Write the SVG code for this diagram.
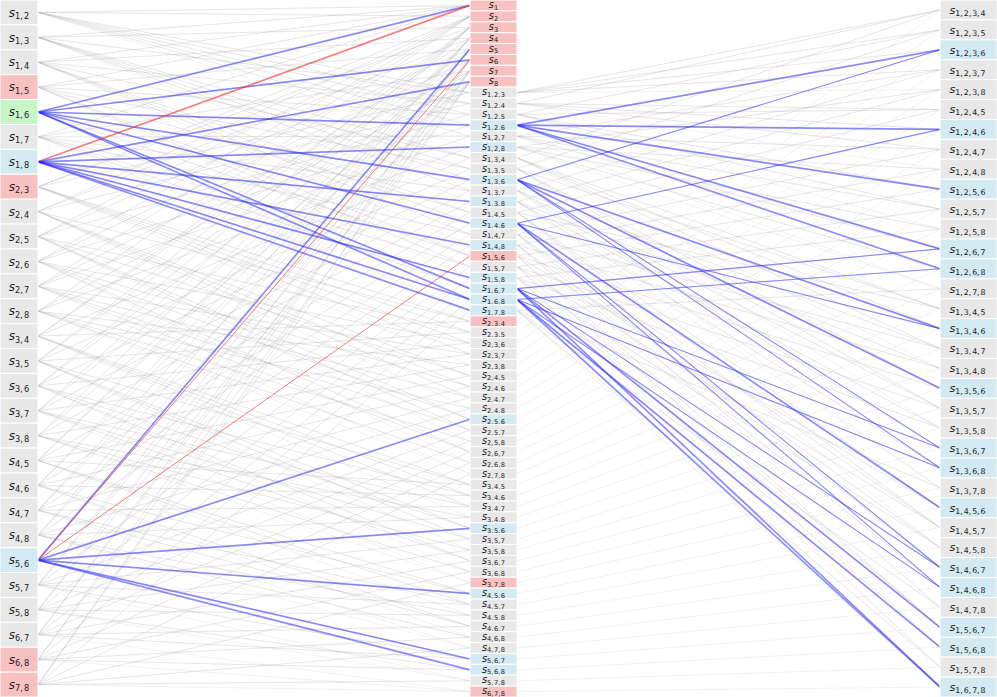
<svg xmlns="http://www.w3.org/2000/svg" width="997" height="697" viewBox="0 0 997 697">
<style>
rect{fill:#e8e8e8;stroke:#fff;stroke-width:1}
rect.p{fill:#f7c1c1}
rect.gn{fill:#c8f5c8}
rect.b{fill:#d4eaf2}
text{font-family:"DejaVu Sans","Liberation Sans",sans-serif;fill:#1a1a1a;text-anchor:middle}
.v{font-style:italic}
.u{word-spacing:-1.5px}
.L{font-size:12px}
.L .u{font-size:8.2px}
.M{font-size:9.8px}
.M .u{font-size:6.6px}
.R{font-size:11.2px}
.R .u{font-size:7.8px}
.mesh{fill:none;stroke:#aaa;stroke-opacity:0.22;stroke-width:0.7}
.hb{stroke:#2828ff;stroke-opacity:0.5;stroke-width:1.7}
.hbt{stroke:#2828ff;stroke-opacity:0.5;stroke-width:1.1}
.hr{stroke:#ff2020;stroke-opacity:0.55;stroke-width:1.7}
.hrt{stroke:#ff2020;stroke-opacity:0.5;stroke-width:1}
</style>
<g id="connectors">
<g id="mesh-left" class="mesh">
<path d="M38 12.4L470 5.4 38 12.4 470 16.3 38 12.4 470 92.6 38 12.4 470 103.5 38 12.4 470 114.4 38 12.4 470 125.2 38 12.4 470 136.1 38 12.4 470 147"/>
<path d="M38 37.3L470 5.4 38 37.3 470 27.2 38 37.3 470 92.6 38 37.3 470 157.9 38 37.3 470 168.8 38 37.3 470 179.7 38 37.3 470 190.6 38 37.3 470 201.5"/>
<path d="M38 62.2L470 5.4 38 62.2 470 38.1 38 62.2 470 103.5 38 62.2 470 157.9 38 62.2 470 212.4 38 62.2 470 223.3 38 62.2 470 234.2 38 62.2 470 245"/>
<path d="M38 87.1L470 5.4 38 87.1 470 49 38 87.1 470 114.4 38 87.1 470 168.8 38 87.1 470 212.4 38 87.1 470 255.9 38 87.1 470 266.8 38 87.1 470 277.7"/>
<path d="M38 112L470 5.4 38 112 470 59.9 38 112 470 125.2 38 112 470 179.7 38 112 470 223.3 38 112 470 255.9 38 112 470 288.6 38 112 470 299.5"/>
<path d="M38 136.9L470 5.4 38 136.9 470 70.8 38 136.9 470 136.1 38 136.9 470 190.6 38 136.9 470 234.2 38 136.9 470 266.8 38 136.9 470 288.6 38 136.9 470 310.4"/>
<path d="M38 161.8L470 5.4 38 161.8 470 81.7 38 161.8 470 147 38 161.8 470 201.5 38 161.8 470 245 38 161.8 470 277.7 38 161.8 470 299.5 38 161.8 470 310.4"/>
<path d="M38 186.7L470 16.3 38 186.7 470 27.2 38 186.7 470 92.6 38 186.7 470 321.3 38 186.7 470 332.2 38 186.7 470 343.1 38 186.7 470 354 38 186.7 470 364.9"/>
<path d="M38 211.6L470 16.3 38 211.6 470 38.1 38 211.6 470 103.5 38 211.6 470 321.3 38 211.6 470 375.8 38 211.6 470 386.7 38 211.6 470 397.6 38 211.6 470 408.4"/>
<path d="M38 236.5L470 16.3 38 236.5 470 49 38 236.5 470 114.4 38 236.5 470 332.2 38 236.5 470 375.8 38 236.5 470 419.3 38 236.5 470 430.2 38 236.5 470 441.1"/>
<path d="M38 261.4L470 16.3 38 261.4 470 59.9 38 261.4 470 125.2 38 261.4 470 343.1 38 261.4 470 386.7 38 261.4 470 419.3 38 261.4 470 452 38 261.4 470 462.9"/>
<path d="M38 286.3L470 16.3 38 286.3 470 70.8 38 286.3 470 136.1 38 286.3 470 354 38 286.3 470 397.6 38 286.3 470 430.2 38 286.3 470 452 38 286.3 470 473.8"/>
<path d="M38 311.2L470 16.3 38 311.2 470 81.7 38 311.2 470 147 38 311.2 470 364.9 38 311.2 470 408.4 38 311.2 470 441.1 38 311.2 470 462.9 38 311.2 470 473.8"/>
<path d="M38 336.1L470 27.2 38 336.1 470 38.1 38 336.1 470 157.9 38 336.1 470 321.3 38 336.1 470 484.7 38 336.1 470 495.6 38 336.1 470 506.5 38 336.1 470 517.4"/>
<path d="M38 361L470 27.2 38 361 470 49 38 361 470 168.8 38 361 470 332.2 38 361 470 484.7 38 361 470 528.3 38 361 470 539.2 38 361 470 550"/>
<path d="M38 385.9L470 27.2 38 385.9 470 59.9 38 385.9 470 179.7 38 385.9 470 343.1 38 385.9 470 495.6 38 385.9 470 528.3 38 385.9 470 560.9 38 385.9 470 571.8"/>
<path d="M38 410.8L470 27.2 38 410.8 470 70.8 38 410.8 470 190.6 38 410.8 470 354 38 410.8 470 506.5 38 410.8 470 539.2 38 410.8 470 560.9 38 410.8 470 582.7"/>
<path d="M38 435.7L470 27.2 38 435.7 470 81.7 38 435.7 470 201.5 38 435.7 470 364.9 38 435.7 470 517.4 38 435.7 470 550 38 435.7 470 571.8 38 435.7 470 582.7"/>
<path d="M38 460.5L470 38.1 38 460.5 470 49 38 460.5 470 212.4 38 460.5 470 375.8 38 460.5 470 484.7 38 460.5 470 593.6 38 460.5 470 604.5 38 460.5 470 615.4"/>
<path d="M38 485.4L470 38.1 38 485.4 470 59.9 38 485.4 470 223.3 38 485.4 470 386.7 38 485.4 470 495.6 38 485.4 470 593.6 38 485.4 470 626.3 38 485.4 470 637.2"/>
<path d="M38 510.3L470 38.1 38 510.3 470 70.8 38 510.3 470 234.2 38 510.3 470 397.6 38 510.3 470 506.5 38 510.3 470 604.5 38 510.3 470 626.3 38 510.3 470 648.1"/>
<path d="M38 535.2L470 38.1 38 535.2 470 81.7 38 535.2 470 245 38 535.2 470 408.4 38 535.2 470 517.4 38 535.2 470 615.4 38 535.2 470 637.2 38 535.2 470 648.1"/>
<path d="M38 560.1L470 49 38 560.1 470 59.9 38 560.1 470 255.9 38 560.1 470 419.3 38 560.1 470 528.3 38 560.1 470 593.6 38 560.1 470 659 38 560.1 470 669.9"/>
<path d="M38 585L470 49 38 585 470 70.8 38 585 470 266.8 38 585 470 430.2 38 585 470 539.2 38 585 470 604.5 38 585 470 659 38 585 470 680.8"/>
<path d="M38 609.9L470 49 38 609.9 470 81.7 38 609.9 470 277.7 38 609.9 470 441.1 38 609.9 470 550 38 609.9 470 615.4 38 609.9 470 669.9 38 609.9 470 680.8"/>
<path d="M38 634.8L470 59.9 38 634.8 470 70.8 38 634.8 470 288.6 38 634.8 470 452 38 634.8 470 560.9 38 634.8 470 626.3 38 634.8 470 659 38 634.8 470 691.6"/>
<path d="M38 659.7L470 59.9 38 659.7 470 81.7 38 659.7 470 299.5 38 659.7 470 462.9 38 659.7 470 571.8 38 659.7 470 637.2 38 659.7 470 669.9 38 659.7 470 691.6"/>
<path d="M38 684.6L470 70.8 38 684.6 470 81.7 38 684.6 470 310.4 38 684.6 470 473.8 38 684.6 470 582.7 38 684.6 470 648.1 38 684.6 470 680.8 38 684.6 470 691.6"/>
</g>
<g id="mesh-right" class="mesh">
<path d="M517 92.6L940 10 517 92.6 940 29.9 517 92.6 940 49.8 517 92.6 940 69.7 517 92.6 940 89.6"/>
<path d="M517 103.5L940 10 517 103.5 940 109.5 517 103.5 940 129.4 517 103.5 940 149.4 517 103.5 940 169.3"/>
<path d="M517 114.4L940 29.9 517 114.4 940 109.5 517 114.4 940 189.2 517 114.4 940 209.1 517 114.4 940 229"/>
<path d="M517 125.2L940 49.8 517 125.2 940 129.4 517 125.2 940 189.2 517 125.2 940 248.9 517 125.2 940 268.8"/>
<path d="M517 136.1L940 69.7 517 136.1 940 149.4 517 136.1 940 209.1 517 136.1 940 248.9 517 136.1 940 288.8"/>
<path d="M517 147L940 89.6 517 147 940 169.3 517 147 940 229 517 147 940 268.8 517 147 940 288.8"/>
<path d="M517 157.9L940 10 517 157.9 940 308.7 517 157.9 940 328.6 517 157.9 940 348.5 517 157.9 940 368.4"/>
<path d="M517 168.8L940 29.9 517 168.8 940 308.7 517 168.8 940 388.3 517 168.8 940 408.2 517 168.8 940 428.2"/>
<path d="M517 179.7L940 49.8 517 179.7 940 328.6 517 179.7 940 388.3 517 179.7 940 448.1 517 179.7 940 468"/>
<path d="M517 190.6L940 69.7 517 190.6 940 348.5 517 190.6 940 408.2 517 190.6 940 448.1 517 190.6 940 487.9"/>
<path d="M517 201.5L940 89.6 517 201.5 940 368.4 517 201.5 940 428.2 517 201.5 940 468 517 201.5 940 487.9"/>
<path d="M517 212.4L940 109.5 517 212.4 940 308.7 517 212.4 940 507.8 517 212.4 940 527.7 517 212.4 940 547.6"/>
<path d="M517 223.3L940 129.4 517 223.3 940 328.6 517 223.3 940 507.8 517 223.3 940 567.5 517 223.3 940 587.4"/>
<path d="M517 234.2L940 149.4 517 234.2 940 348.5 517 234.2 940 527.7 517 234.2 940 567.5 517 234.2 940 607.4"/>
<path d="M517 245L940 169.3 517 245 940 368.4 517 245 940 547.6 517 245 940 587.4 517 245 940 607.4"/>
<path d="M517 255.9L940 189.2 517 255.9 940 388.3 517 255.9 940 507.8 517 255.9 940 627.3 517 255.9 940 647.2"/>
<path d="M517 266.8L940 209.1 517 266.8 940 408.2 517 266.8 940 527.7 517 266.8 940 627.3 517 266.8 940 667.1"/>
<path d="M517 277.7L940 229 517 277.7 940 428.2 517 277.7 940 547.6 517 277.7 940 647.2 517 277.7 940 667.1"/>
<path d="M517 288.6L940 248.9 517 288.6 940 448.1 517 288.6 940 567.5 517 288.6 940 627.3 517 288.6 940 687"/>
<path d="M517 299.5L940 268.8 517 299.5 940 468 517 299.5 940 587.4 517 299.5 940 647.2 517 299.5 940 687"/>
<path d="M517 310.4L940 288.8 517 310.4 940 487.9 517 310.4 940 607.4 517 310.4 940 667.1 517 310.4 940 687"/>
<path d="M517 321.3L940 10M517 332.2L940 29.9M517 343.1L940 49.8M517 354L940 69.7M517 364.9L940 89.6M517 375.8L940 109.5M517 386.7L940 129.4M517 397.6L940 149.4M517 408.4L940 169.3M517 419.3L940 189.2M517 430.2L940 209.1M517 441.1L940 229M517 452L940 248.9M517 462.9L940 268.8M517 473.8L940 288.8M517 484.7L940 308.7M517 495.6L940 328.6M517 506.5L940 348.5M517 517.4L940 368.4M517 528.3L940 388.3M517 539.2L940 408.2M517 550L940 428.2M517 560.9L940 448.1M517 571.8L940 468M517 582.7L940 487.9M517 593.6L940 507.8M517 604.5L940 527.7M517 615.4L940 547.6M517 626.3L940 567.5M517 637.2L940 587.4M517 648.1L940 607.4M517 659L940 627.3M517 669.9L940 647.2M517 680.8L940 667.1M517 691.6L940 687"/>
</g>
<g id="highlight-left">
<line class="hb" x1="38" y1="112" x2="470" y2="5.4"/>
<line class="hb" x1="38" y1="112" x2="470" y2="59.9"/>
<line class="hb" x1="38" y1="112" x2="470" y2="125.2"/>
<line class="hb" x1="38" y1="112" x2="470" y2="179.7"/>
<line class="hb" x1="38" y1="112" x2="470" y2="223.3"/>
<line class="hb" x1="38" y1="112" x2="470" y2="288.6"/>
<line class="hb" x1="38" y1="112" x2="470" y2="299.5"/>
<line class="hr" x1="38" y1="161.8" x2="470" y2="5.4"/>
<line class="hb" x1="38" y1="161.8" x2="470" y2="81.7"/>
<line class="hb" x1="38" y1="161.8" x2="470" y2="147"/>
<line class="hb" x1="38" y1="161.8" x2="470" y2="201.5"/>
<line class="hb" x1="38" y1="161.8" x2="470" y2="245"/>
<line class="hb" x1="38" y1="161.8" x2="470" y2="277.7"/>
<line class="hb" x1="38" y1="161.8" x2="470" y2="299.5"/>
<line class="hb" x1="38" y1="161.8" x2="470" y2="310.4"/>
<line class="hb" x1="38" y1="560.1" x2="470" y2="49"/>
<line class="hrt" x1="38" y1="560.1" x2="470" y2="59.9"/>
<line class="hrt" x1="38" y1="560.1" x2="470" y2="255.9"/>
<line class="hb" x1="38" y1="560.1" x2="470" y2="419.3"/>
<line class="hb" x1="38" y1="560.1" x2="470" y2="528.3"/>
<line class="hb" x1="38" y1="560.1" x2="470" y2="593.6"/>
<line class="hb" x1="38" y1="560.1" x2="470" y2="659"/>
<line class="hb" x1="38" y1="560.1" x2="470" y2="669.9"/>
</g>
<g id="highlight-right">
<line class="hb" x1="517" y1="125.2" x2="940" y2="49.8"/>
<line class="hb" x1="517" y1="125.2" x2="940" y2="129.4"/>
<line class="hb" x1="517" y1="125.2" x2="940" y2="189.2"/>
<line class="hb" x1="517" y1="125.2" x2="940" y2="248.9"/>
<line class="hb" x1="517" y1="125.2" x2="940" y2="268.8"/>
<line class="hbt" x1="517" y1="179.7" x2="940" y2="49.8"/>
<line class="hb" x1="517" y1="179.7" x2="940" y2="328.6"/>
<line class="hb" x1="517" y1="179.7" x2="940" y2="388.3"/>
<line class="hbt" x1="517" y1="179.7" x2="940" y2="448.1"/>
<line class="hbt" x1="517" y1="179.7" x2="940" y2="468"/>
<line class="hbt" x1="517" y1="223.3" x2="940" y2="129.4"/>
<line class="hbt" x1="517" y1="223.3" x2="940" y2="328.6"/>
<line class="hb" x1="517" y1="223.3" x2="940" y2="507.8"/>
<line class="hbt" x1="517" y1="223.3" x2="940" y2="567.5"/>
<line class="hbt" x1="517" y1="223.3" x2="940" y2="587.4"/>
<line class="hbt" x1="517" y1="288.6" x2="940" y2="248.9"/>
<line class="hbt" x1="517" y1="288.6" x2="940" y2="448.1"/>
<line class="hbt" x1="517" y1="288.6" x2="940" y2="567.5"/>
<line class="hb" x1="517" y1="288.6" x2="940" y2="627.3"/>
<line class="hb" x1="517" y1="288.6" x2="940" y2="687"/>
<line class="hbt" x1="517" y1="299.5" x2="940" y2="268.8"/>
<line class="hbt" x1="517" y1="299.5" x2="940" y2="468"/>
<line class="hbt" x1="517" y1="299.5" x2="940" y2="587.4"/>
<line class="hb" x1="517" y1="299.5" x2="940" y2="647.2"/>
<line class="hb" x1="517" y1="299.5" x2="940" y2="687"/>
</g>
</g>
<g id="left-nodes">
<g id="s_1_2" transform="translate(0,0)"><rect width="38" height="24.9"/><text class="L" x="19" y="16.7"><tspan class="v">s</tspan><tspan class="u" dy="2.2">1, 2</tspan></text></g>
<g id="s_1_3" transform="translate(0,24.89)"><rect width="38" height="24.9"/><text class="L" x="19" y="16.7"><tspan class="v">s</tspan><tspan class="u" dy="2.2">1, 3</tspan></text></g>
<g id="s_1_4" transform="translate(0,49.79)"><rect width="38" height="24.9"/><text class="L" x="19" y="16.7"><tspan class="v">s</tspan><tspan class="u" dy="2.2">1, 4</tspan></text></g>
<g id="s_1_5" transform="translate(0,74.68)"><rect class="p" width="38" height="24.9"/><text class="L" x="19" y="16.7"><tspan class="v">s</tspan><tspan class="u" dy="2.2">1, 5</tspan></text></g>
<g id="s_1_6" transform="translate(0,99.57)"><rect class="gn" width="38" height="24.9"/><text class="L" x="19" y="16.7"><tspan class="v">s</tspan><tspan class="u" dy="2.2">1, 6</tspan></text></g>
<g id="s_1_7" transform="translate(0,124.46)"><rect width="38" height="24.9"/><text class="L" x="19" y="16.7"><tspan class="v">s</tspan><tspan class="u" dy="2.2">1, 7</tspan></text></g>
<g id="s_1_8" transform="translate(0,149.36)"><rect class="b" width="38" height="24.9"/><text class="L" x="19" y="16.7"><tspan class="v">s</tspan><tspan class="u" dy="2.2">1, 8</tspan></text></g>
<g id="s_2_3" transform="translate(0,174.25)"><rect class="p" width="38" height="24.9"/><text class="L" x="19" y="16.7"><tspan class="v">s</tspan><tspan class="u" dy="2.2">2, 3</tspan></text></g>
<g id="s_2_4" transform="translate(0,199.14)"><rect width="38" height="24.9"/><text class="L" x="19" y="16.7"><tspan class="v">s</tspan><tspan class="u" dy="2.2">2, 4</tspan></text></g>
<g id="s_2_5" transform="translate(0,224.04)"><rect width="38" height="24.9"/><text class="L" x="19" y="16.7"><tspan class="v">s</tspan><tspan class="u" dy="2.2">2, 5</tspan></text></g>
<g id="s_2_6" transform="translate(0,248.93)"><rect width="38" height="24.9"/><text class="L" x="19" y="16.7"><tspan class="v">s</tspan><tspan class="u" dy="2.2">2, 6</tspan></text></g>
<g id="s_2_7" transform="translate(0,273.82)"><rect width="38" height="24.9"/><text class="L" x="19" y="16.7"><tspan class="v">s</tspan><tspan class="u" dy="2.2">2, 7</tspan></text></g>
<g id="s_2_8" transform="translate(0,298.72)"><rect width="38" height="24.9"/><text class="L" x="19" y="16.7"><tspan class="v">s</tspan><tspan class="u" dy="2.2">2, 8</tspan></text></g>
<g id="s_3_4" transform="translate(0,323.61)"><rect width="38" height="24.9"/><text class="L" x="19" y="16.7"><tspan class="v">s</tspan><tspan class="u" dy="2.2">3, 4</tspan></text></g>
<g id="s_3_5" transform="translate(0,348.5)"><rect width="38" height="24.9"/><text class="L" x="19" y="16.7"><tspan class="v">s</tspan><tspan class="u" dy="2.2">3, 5</tspan></text></g>
<g id="s_3_6" transform="translate(0,373.4)"><rect width="38" height="24.9"/><text class="L" x="19" y="16.7"><tspan class="v">s</tspan><tspan class="u" dy="2.2">3, 6</tspan></text></g>
<g id="s_3_7" transform="translate(0,398.29)"><rect width="38" height="24.9"/><text class="L" x="19" y="16.7"><tspan class="v">s</tspan><tspan class="u" dy="2.2">3, 7</tspan></text></g>
<g id="s_3_8" transform="translate(0,423.18)"><rect width="38" height="24.9"/><text class="L" x="19" y="16.7"><tspan class="v">s</tspan><tspan class="u" dy="2.2">3, 8</tspan></text></g>
<g id="s_4_5" transform="translate(0,448.07)"><rect width="38" height="24.9"/><text class="L" x="19" y="16.7"><tspan class="v">s</tspan><tspan class="u" dy="2.2">4, 5</tspan></text></g>
<g id="s_4_6" transform="translate(0,472.97)"><rect width="38" height="24.9"/><text class="L" x="19" y="16.7"><tspan class="v">s</tspan><tspan class="u" dy="2.2">4, 6</tspan></text></g>
<g id="s_4_7" transform="translate(0,497.86)"><rect width="38" height="24.9"/><text class="L" x="19" y="16.7"><tspan class="v">s</tspan><tspan class="u" dy="2.2">4, 7</tspan></text></g>
<g id="s_4_8" transform="translate(0,522.75)"><rect width="38" height="24.9"/><text class="L" x="19" y="16.7"><tspan class="v">s</tspan><tspan class="u" dy="2.2">4, 8</tspan></text></g>
<g id="s_5_6" transform="translate(0,547.65)"><rect class="b" width="38" height="24.9"/><text class="L" x="19" y="16.7"><tspan class="v">s</tspan><tspan class="u" dy="2.2">5, 6</tspan></text></g>
<g id="s_5_7" transform="translate(0,572.54)"><rect width="38" height="24.9"/><text class="L" x="19" y="16.7"><tspan class="v">s</tspan><tspan class="u" dy="2.2">5, 7</tspan></text></g>
<g id="s_5_8" transform="translate(0,597.43)"><rect width="38" height="24.9"/><text class="L" x="19" y="16.7"><tspan class="v">s</tspan><tspan class="u" dy="2.2">5, 8</tspan></text></g>
<g id="s_6_7" transform="translate(0,622.32)"><rect width="38" height="24.9"/><text class="L" x="19" y="16.7"><tspan class="v">s</tspan><tspan class="u" dy="2.2">6, 7</tspan></text></g>
<g id="s_6_8" transform="translate(0,647.22)"><rect class="p" width="38" height="24.9"/><text class="L" x="19" y="16.7"><tspan class="v">s</tspan><tspan class="u" dy="2.2">6, 8</tspan></text></g>
<g id="s_7_8" transform="translate(0,672.11)"><rect class="p" width="38" height="24.9"/><text class="L" x="19" y="16.7"><tspan class="v">s</tspan><tspan class="u" dy="2.2">7, 8</tspan></text></g>
</g>
<g id="middle-nodes">
<g id="s_1" transform="translate(470,0)"><rect class="p" width="47" height="10.9"/><text class="M" x="23.5" y="8.2"><tspan class="v">s</tspan><tspan class="u" dy="1.6">1</tspan></text></g>
<g id="s_2" transform="translate(470,10.89)"><rect class="p" width="47" height="10.9"/><text class="M" x="23.5" y="8.2"><tspan class="v">s</tspan><tspan class="u" dy="1.6">2</tspan></text></g>
<g id="s_3" transform="translate(470,21.78)"><rect class="p" width="47" height="10.9"/><text class="M" x="23.5" y="8.2"><tspan class="v">s</tspan><tspan class="u" dy="1.6">3</tspan></text></g>
<g id="s_4" transform="translate(470,32.67)"><rect class="p" width="47" height="10.9"/><text class="M" x="23.5" y="8.2"><tspan class="v">s</tspan><tspan class="u" dy="1.6">4</tspan></text></g>
<g id="s_5" transform="translate(470,43.56)"><rect class="p" width="47" height="10.9"/><text class="M" x="23.5" y="8.2"><tspan class="v">s</tspan><tspan class="u" dy="1.6">5</tspan></text></g>
<g id="s_6" transform="translate(470,54.45)"><rect class="p" width="47" height="10.9"/><text class="M" x="23.5" y="8.2"><tspan class="v">s</tspan><tspan class="u" dy="1.6">6</tspan></text></g>
<g id="s_7" transform="translate(470,65.34)"><rect class="p" width="47" height="10.9"/><text class="M" x="23.5" y="8.2"><tspan class="v">s</tspan><tspan class="u" dy="1.6">7</tspan></text></g>
<g id="s_8" transform="translate(470,76.23)"><rect class="p" width="47" height="10.9"/><text class="M" x="23.5" y="8.2"><tspan class="v">s</tspan><tspan class="u" dy="1.6">8</tspan></text></g>
<g id="s_1_2_3" transform="translate(470,87.12)"><rect width="47" height="10.9"/><text class="M" x="23.5" y="8.2"><tspan class="v">s</tspan><tspan class="u" dy="1.6">1, 2, 3</tspan></text></g>
<g id="s_1_2_4" transform="translate(470,98.02)"><rect width="47" height="10.9"/><text class="M" x="23.5" y="8.2"><tspan class="v">s</tspan><tspan class="u" dy="1.6">1, 2, 4</tspan></text></g>
<g id="s_1_2_5" transform="translate(470,108.91)"><rect width="47" height="10.9"/><text class="M" x="23.5" y="8.2"><tspan class="v">s</tspan><tspan class="u" dy="1.6">1, 2, 5</tspan></text></g>
<g id="s_1_2_6" transform="translate(470,119.8)"><rect class="b" width="47" height="10.9"/><text class="M" x="23.5" y="8.2"><tspan class="v">s</tspan><tspan class="u" dy="1.6">1, 2, 6</tspan></text></g>
<g id="s_1_2_7" transform="translate(470,130.69)"><rect width="47" height="10.9"/><text class="M" x="23.5" y="8.2"><tspan class="v">s</tspan><tspan class="u" dy="1.6">1, 2, 7</tspan></text></g>
<g id="s_1_2_8" transform="translate(470,141.58)"><rect class="b" width="47" height="10.9"/><text class="M" x="23.5" y="8.2"><tspan class="v">s</tspan><tspan class="u" dy="1.6">1, 2, 8</tspan></text></g>
<g id="s_1_3_4" transform="translate(470,152.47)"><rect width="47" height="10.9"/><text class="M" x="23.5" y="8.2"><tspan class="v">s</tspan><tspan class="u" dy="1.6">1, 3, 4</tspan></text></g>
<g id="s_1_3_5" transform="translate(470,163.36)"><rect width="47" height="10.9"/><text class="M" x="23.5" y="8.2"><tspan class="v">s</tspan><tspan class="u" dy="1.6">1, 3, 5</tspan></text></g>
<g id="s_1_3_6" transform="translate(470,174.25)"><rect class="b" width="47" height="10.9"/><text class="M" x="23.5" y="8.2"><tspan class="v">s</tspan><tspan class="u" dy="1.6">1, 3, 6</tspan></text></g>
<g id="s_1_3_7" transform="translate(470,185.14)"><rect width="47" height="10.9"/><text class="M" x="23.5" y="8.2"><tspan class="v">s</tspan><tspan class="u" dy="1.6">1, 3, 7</tspan></text></g>
<g id="s_1_3_8" transform="translate(470,196.03)"><rect class="b" width="47" height="10.9"/><text class="M" x="23.5" y="8.2"><tspan class="v">s</tspan><tspan class="u" dy="1.6">1, 3, 8</tspan></text></g>
<g id="s_1_4_5" transform="translate(470,206.92)"><rect width="47" height="10.9"/><text class="M" x="23.5" y="8.2"><tspan class="v">s</tspan><tspan class="u" dy="1.6">1, 4, 5</tspan></text></g>
<g id="s_1_4_6" transform="translate(470,217.81)"><rect class="b" width="47" height="10.9"/><text class="M" x="23.5" y="8.2"><tspan class="v">s</tspan><tspan class="u" dy="1.6">1, 4, 6</tspan></text></g>
<g id="s_1_4_7" transform="translate(470,228.7)"><rect width="47" height="10.9"/><text class="M" x="23.5" y="8.2"><tspan class="v">s</tspan><tspan class="u" dy="1.6">1, 4, 7</tspan></text></g>
<g id="s_1_4_8" transform="translate(470,239.59)"><rect class="b" width="47" height="10.9"/><text class="M" x="23.5" y="8.2"><tspan class="v">s</tspan><tspan class="u" dy="1.6">1, 4, 8</tspan></text></g>
<g id="s_1_5_6" transform="translate(470,250.48)"><rect class="p" width="47" height="10.9"/><text class="M" x="23.5" y="8.2"><tspan class="v">s</tspan><tspan class="u" dy="1.6">1, 5, 6</tspan></text></g>
<g id="s_1_5_7" transform="translate(470,261.38)"><rect width="47" height="10.9"/><text class="M" x="23.5" y="8.2"><tspan class="v">s</tspan><tspan class="u" dy="1.6">1, 5, 7</tspan></text></g>
<g id="s_1_5_8" transform="translate(470,272.27)"><rect class="b" width="47" height="10.9"/><text class="M" x="23.5" y="8.2"><tspan class="v">s</tspan><tspan class="u" dy="1.6">1, 5, 8</tspan></text></g>
<g id="s_1_6_7" transform="translate(470,283.16)"><rect class="b" width="47" height="10.9"/><text class="M" x="23.5" y="8.2"><tspan class="v">s</tspan><tspan class="u" dy="1.6">1, 6, 7</tspan></text></g>
<g id="s_1_6_8" transform="translate(470,294.05)"><rect class="b" width="47" height="10.9"/><text class="M" x="23.5" y="8.2"><tspan class="v">s</tspan><tspan class="u" dy="1.6">1, 6, 8</tspan></text></g>
<g id="s_1_7_8" transform="translate(470,304.94)"><rect class="b" width="47" height="10.9"/><text class="M" x="23.5" y="8.2"><tspan class="v">s</tspan><tspan class="u" dy="1.6">1, 7, 8</tspan></text></g>
<g id="s_2_3_4" transform="translate(470,315.83)"><rect class="p" width="47" height="10.9"/><text class="M" x="23.5" y="8.2"><tspan class="v">s</tspan><tspan class="u" dy="1.6">2, 3, 4</tspan></text></g>
<g id="s_2_3_5" transform="translate(470,326.72)"><rect width="47" height="10.9"/><text class="M" x="23.5" y="8.2"><tspan class="v">s</tspan><tspan class="u" dy="1.6">2, 3, 5</tspan></text></g>
<g id="s_2_3_6" transform="translate(470,337.61)"><rect width="47" height="10.9"/><text class="M" x="23.5" y="8.2"><tspan class="v">s</tspan><tspan class="u" dy="1.6">2, 3, 6</tspan></text></g>
<g id="s_2_3_7" transform="translate(470,348.5)"><rect width="47" height="10.9"/><text class="M" x="23.5" y="8.2"><tspan class="v">s</tspan><tspan class="u" dy="1.6">2, 3, 7</tspan></text></g>
<g id="s_2_3_8" transform="translate(470,359.39)"><rect width="47" height="10.9"/><text class="M" x="23.5" y="8.2"><tspan class="v">s</tspan><tspan class="u" dy="1.6">2, 3, 8</tspan></text></g>
<g id="s_2_4_5" transform="translate(470,370.28)"><rect width="47" height="10.9"/><text class="M" x="23.5" y="8.2"><tspan class="v">s</tspan><tspan class="u" dy="1.6">2, 4, 5</tspan></text></g>
<g id="s_2_4_6" transform="translate(470,381.17)"><rect width="47" height="10.9"/><text class="M" x="23.5" y="8.2"><tspan class="v">s</tspan><tspan class="u" dy="1.6">2, 4, 6</tspan></text></g>
<g id="s_2_4_7" transform="translate(470,392.06)"><rect width="47" height="10.9"/><text class="M" x="23.5" y="8.2"><tspan class="v">s</tspan><tspan class="u" dy="1.6">2, 4, 7</tspan></text></g>
<g id="s_2_4_8" transform="translate(470,402.95)"><rect width="47" height="10.9"/><text class="M" x="23.5" y="8.2"><tspan class="v">s</tspan><tspan class="u" dy="1.6">2, 4, 8</tspan></text></g>
<g id="s_2_5_6" transform="translate(470,413.84)"><rect class="b" width="47" height="10.9"/><text class="M" x="23.5" y="8.2"><tspan class="v">s</tspan><tspan class="u" dy="1.6">2, 5, 6</tspan></text></g>
<g id="s_2_5_7" transform="translate(470,424.73)"><rect width="47" height="10.9"/><text class="M" x="23.5" y="8.2"><tspan class="v">s</tspan><tspan class="u" dy="1.6">2, 5, 7</tspan></text></g>
<g id="s_2_5_8" transform="translate(470,435.63)"><rect width="47" height="10.9"/><text class="M" x="23.5" y="8.2"><tspan class="v">s</tspan><tspan class="u" dy="1.6">2, 5, 8</tspan></text></g>
<g id="s_2_6_7" transform="translate(470,446.52)"><rect width="47" height="10.9"/><text class="M" x="23.5" y="8.2"><tspan class="v">s</tspan><tspan class="u" dy="1.6">2, 6, 7</tspan></text></g>
<g id="s_2_6_8" transform="translate(470,457.41)"><rect width="47" height="10.9"/><text class="M" x="23.5" y="8.2"><tspan class="v">s</tspan><tspan class="u" dy="1.6">2, 6, 8</tspan></text></g>
<g id="s_2_7_8" transform="translate(470,468.3)"><rect width="47" height="10.9"/><text class="M" x="23.5" y="8.2"><tspan class="v">s</tspan><tspan class="u" dy="1.6">2, 7, 8</tspan></text></g>
<g id="s_3_4_5" transform="translate(470,479.19)"><rect width="47" height="10.9"/><text class="M" x="23.5" y="8.2"><tspan class="v">s</tspan><tspan class="u" dy="1.6">3, 4, 5</tspan></text></g>
<g id="s_3_4_6" transform="translate(470,490.08)"><rect width="47" height="10.9"/><text class="M" x="23.5" y="8.2"><tspan class="v">s</tspan><tspan class="u" dy="1.6">3, 4, 6</tspan></text></g>
<g id="s_3_4_7" transform="translate(470,500.97)"><rect width="47" height="10.9"/><text class="M" x="23.5" y="8.2"><tspan class="v">s</tspan><tspan class="u" dy="1.6">3, 4, 7</tspan></text></g>
<g id="s_3_4_8" transform="translate(470,511.86)"><rect width="47" height="10.9"/><text class="M" x="23.5" y="8.2"><tspan class="v">s</tspan><tspan class="u" dy="1.6">3, 4, 8</tspan></text></g>
<g id="s_3_5_6" transform="translate(470,522.75)"><rect class="b" width="47" height="10.9"/><text class="M" x="23.5" y="8.2"><tspan class="v">s</tspan><tspan class="u" dy="1.6">3, 5, 6</tspan></text></g>
<g id="s_3_5_7" transform="translate(470,533.64)"><rect width="47" height="10.9"/><text class="M" x="23.5" y="8.2"><tspan class="v">s</tspan><tspan class="u" dy="1.6">3, 5, 7</tspan></text></g>
<g id="s_3_5_8" transform="translate(470,544.53)"><rect width="47" height="10.9"/><text class="M" x="23.5" y="8.2"><tspan class="v">s</tspan><tspan class="u" dy="1.6">3, 5, 8</tspan></text></g>
<g id="s_3_6_7" transform="translate(470,555.42)"><rect width="47" height="10.9"/><text class="M" x="23.5" y="8.2"><tspan class="v">s</tspan><tspan class="u" dy="1.6">3, 6, 7</tspan></text></g>
<g id="s_3_6_8" transform="translate(470,566.31)"><rect width="47" height="10.9"/><text class="M" x="23.5" y="8.2"><tspan class="v">s</tspan><tspan class="u" dy="1.6">3, 6, 8</tspan></text></g>
<g id="s_3_7_8" transform="translate(470,577.2)"><rect class="p" width="47" height="10.9"/><text class="M" x="23.5" y="8.2"><tspan class="v">s</tspan><tspan class="u" dy="1.6">3, 7, 8</tspan></text></g>
<g id="s_4_5_6" transform="translate(470,588.09)"><rect class="b" width="47" height="10.9"/><text class="M" x="23.5" y="8.2"><tspan class="v">s</tspan><tspan class="u" dy="1.6">4, 5, 6</tspan></text></g>
<g id="s_4_5_7" transform="translate(470,598.98)"><rect width="47" height="10.9"/><text class="M" x="23.5" y="8.2"><tspan class="v">s</tspan><tspan class="u" dy="1.6">4, 5, 7</tspan></text></g>
<g id="s_4_5_8" transform="translate(470,609.88)"><rect width="47" height="10.9"/><text class="M" x="23.5" y="8.2"><tspan class="v">s</tspan><tspan class="u" dy="1.6">4, 5, 8</tspan></text></g>
<g id="s_4_6_7" transform="translate(470,620.77)"><rect width="47" height="10.9"/><text class="M" x="23.5" y="8.2"><tspan class="v">s</tspan><tspan class="u" dy="1.6">4, 6, 7</tspan></text></g>
<g id="s_4_6_8" transform="translate(470,631.66)"><rect width="47" height="10.9"/><text class="M" x="23.5" y="8.2"><tspan class="v">s</tspan><tspan class="u" dy="1.6">4, 6, 8</tspan></text></g>
<g id="s_4_7_8" transform="translate(470,642.55)"><rect width="47" height="10.9"/><text class="M" x="23.5" y="8.2"><tspan class="v">s</tspan><tspan class="u" dy="1.6">4, 7, 8</tspan></text></g>
<g id="s_5_6_7" transform="translate(470,653.44)"><rect class="b" width="47" height="10.9"/><text class="M" x="23.5" y="8.2"><tspan class="v">s</tspan><tspan class="u" dy="1.6">5, 6, 7</tspan></text></g>
<g id="s_5_6_8" transform="translate(470,664.33)"><rect class="b" width="47" height="10.9"/><text class="M" x="23.5" y="8.2"><tspan class="v">s</tspan><tspan class="u" dy="1.6">5, 6, 8</tspan></text></g>
<g id="s_5_7_8" transform="translate(470,675.22)"><rect width="47" height="10.9"/><text class="M" x="23.5" y="8.2"><tspan class="v">s</tspan><tspan class="u" dy="1.6">5, 7, 8</tspan></text></g>
<g id="s_6_7_8" transform="translate(470,686.11)"><rect class="p" width="47" height="10.9"/><text class="M" x="23.5" y="8.2"><tspan class="v">s</tspan><tspan class="u" dy="1.6">6, 7, 8</tspan></text></g>
</g>
<g id="right-nodes">
<g id="s_1_2_3_4" transform="translate(940,0)"><rect width="57" height="19.9"/><text class="R" x="27.5" y="13.8"><tspan class="v">s</tspan><tspan class="u" dy="2">1, 2, 3, 4</tspan></text></g>
<g id="s_1_2_3_5" transform="translate(940,19.91)"><rect width="57" height="19.9"/><text class="R" x="27.5" y="13.8"><tspan class="v">s</tspan><tspan class="u" dy="2">1, 2, 3, 5</tspan></text></g>
<g id="s_1_2_3_6" transform="translate(940,39.83)"><rect class="b" width="57" height="19.9"/><text class="R" x="27.5" y="13.8"><tspan class="v">s</tspan><tspan class="u" dy="2">1, 2, 3, 6</tspan></text></g>
<g id="s_1_2_3_7" transform="translate(940,59.74)"><rect width="57" height="19.9"/><text class="R" x="27.5" y="13.8"><tspan class="v">s</tspan><tspan class="u" dy="2">1, 2, 3, 7</tspan></text></g>
<g id="s_1_2_3_8" transform="translate(940,79.66)"><rect width="57" height="19.9"/><text class="R" x="27.5" y="13.8"><tspan class="v">s</tspan><tspan class="u" dy="2">1, 2, 3, 8</tspan></text></g>
<g id="s_1_2_4_5" transform="translate(940,99.57)"><rect width="57" height="19.9"/><text class="R" x="27.5" y="13.8"><tspan class="v">s</tspan><tspan class="u" dy="2">1, 2, 4, 5</tspan></text></g>
<g id="s_1_2_4_6" transform="translate(940,119.49)"><rect class="b" width="57" height="19.9"/><text class="R" x="27.5" y="13.8"><tspan class="v">s</tspan><tspan class="u" dy="2">1, 2, 4, 6</tspan></text></g>
<g id="s_1_2_4_7" transform="translate(940,139.4)"><rect width="57" height="19.9"/><text class="R" x="27.5" y="13.8"><tspan class="v">s</tspan><tspan class="u" dy="2">1, 2, 4, 7</tspan></text></g>
<g id="s_1_2_4_8" transform="translate(940,159.31)"><rect width="57" height="19.9"/><text class="R" x="27.5" y="13.8"><tspan class="v">s</tspan><tspan class="u" dy="2">1, 2, 4, 8</tspan></text></g>
<g id="s_1_2_5_6" transform="translate(940,179.23)"><rect class="b" width="57" height="19.9"/><text class="R" x="27.5" y="13.8"><tspan class="v">s</tspan><tspan class="u" dy="2">1, 2, 5, 6</tspan></text></g>
<g id="s_1_2_5_7" transform="translate(940,199.14)"><rect width="57" height="19.9"/><text class="R" x="27.5" y="13.8"><tspan class="v">s</tspan><tspan class="u" dy="2">1, 2, 5, 7</tspan></text></g>
<g id="s_1_2_5_8" transform="translate(940,219.06)"><rect width="57" height="19.9"/><text class="R" x="27.5" y="13.8"><tspan class="v">s</tspan><tspan class="u" dy="2">1, 2, 5, 8</tspan></text></g>
<g id="s_1_2_6_7" transform="translate(940,238.97)"><rect class="b" width="57" height="19.9"/><text class="R" x="27.5" y="13.8"><tspan class="v">s</tspan><tspan class="u" dy="2">1, 2, 6, 7</tspan></text></g>
<g id="s_1_2_6_8" transform="translate(940,258.89)"><rect class="b" width="57" height="19.9"/><text class="R" x="27.5" y="13.8"><tspan class="v">s</tspan><tspan class="u" dy="2">1, 2, 6, 8</tspan></text></g>
<g id="s_1_2_7_8" transform="translate(940,278.8)"><rect width="57" height="19.9"/><text class="R" x="27.5" y="13.8"><tspan class="v">s</tspan><tspan class="u" dy="2">1, 2, 7, 8</tspan></text></g>
<g id="s_1_3_4_5" transform="translate(940,298.71)"><rect width="57" height="19.9"/><text class="R" x="27.5" y="13.8"><tspan class="v">s</tspan><tspan class="u" dy="2">1, 3, 4, 5</tspan></text></g>
<g id="s_1_3_4_6" transform="translate(940,318.63)"><rect class="b" width="57" height="19.9"/><text class="R" x="27.5" y="13.8"><tspan class="v">s</tspan><tspan class="u" dy="2">1, 3, 4, 6</tspan></text></g>
<g id="s_1_3_4_7" transform="translate(940,338.54)"><rect width="57" height="19.9"/><text class="R" x="27.5" y="13.8"><tspan class="v">s</tspan><tspan class="u" dy="2">1, 3, 4, 7</tspan></text></g>
<g id="s_1_3_4_8" transform="translate(940,358.46)"><rect width="57" height="19.9"/><text class="R" x="27.5" y="13.8"><tspan class="v">s</tspan><tspan class="u" dy="2">1, 3, 4, 8</tspan></text></g>
<g id="s_1_3_5_6" transform="translate(940,378.37)"><rect class="b" width="57" height="19.9"/><text class="R" x="27.5" y="13.8"><tspan class="v">s</tspan><tspan class="u" dy="2">1, 3, 5, 6</tspan></text></g>
<g id="s_1_3_5_7" transform="translate(940,398.29)"><rect width="57" height="19.9"/><text class="R" x="27.5" y="13.8"><tspan class="v">s</tspan><tspan class="u" dy="2">1, 3, 5, 7</tspan></text></g>
<g id="s_1_3_5_8" transform="translate(940,418.2)"><rect width="57" height="19.9"/><text class="R" x="27.5" y="13.8"><tspan class="v">s</tspan><tspan class="u" dy="2">1, 3, 5, 8</tspan></text></g>
<g id="s_1_3_6_7" transform="translate(940,438.11)"><rect class="b" width="57" height="19.9"/><text class="R" x="27.5" y="13.8"><tspan class="v">s</tspan><tspan class="u" dy="2">1, 3, 6, 7</tspan></text></g>
<g id="s_1_3_6_8" transform="translate(940,458.03)"><rect class="b" width="57" height="19.9"/><text class="R" x="27.5" y="13.8"><tspan class="v">s</tspan><tspan class="u" dy="2">1, 3, 6, 8</tspan></text></g>
<g id="s_1_3_7_8" transform="translate(940,477.94)"><rect width="57" height="19.9"/><text class="R" x="27.5" y="13.8"><tspan class="v">s</tspan><tspan class="u" dy="2">1, 3, 7, 8</tspan></text></g>
<g id="s_1_4_5_6" transform="translate(940,497.86)"><rect class="b" width="57" height="19.9"/><text class="R" x="27.5" y="13.8"><tspan class="v">s</tspan><tspan class="u" dy="2">1, 4, 5, 6</tspan></text></g>
<g id="s_1_4_5_7" transform="translate(940,517.77)"><rect width="57" height="19.9"/><text class="R" x="27.5" y="13.8"><tspan class="v">s</tspan><tspan class="u" dy="2">1, 4, 5, 7</tspan></text></g>
<g id="s_1_4_5_8" transform="translate(940,537.69)"><rect width="57" height="19.9"/><text class="R" x="27.5" y="13.8"><tspan class="v">s</tspan><tspan class="u" dy="2">1, 4, 5, 8</tspan></text></g>
<g id="s_1_4_6_7" transform="translate(940,557.6)"><rect class="b" width="57" height="19.9"/><text class="R" x="27.5" y="13.8"><tspan class="v">s</tspan><tspan class="u" dy="2">1, 4, 6, 7</tspan></text></g>
<g id="s_1_4_6_8" transform="translate(940,577.51)"><rect class="b" width="57" height="19.9"/><text class="R" x="27.5" y="13.8"><tspan class="v">s</tspan><tspan class="u" dy="2">1, 4, 6, 8</tspan></text></g>
<g id="s_1_4_7_8" transform="translate(940,597.43)"><rect width="57" height="19.9"/><text class="R" x="27.5" y="13.8"><tspan class="v">s</tspan><tspan class="u" dy="2">1, 4, 7, 8</tspan></text></g>
<g id="s_1_5_6_7" transform="translate(940,617.34)"><rect class="b" width="57" height="19.9"/><text class="R" x="27.5" y="13.8"><tspan class="v">s</tspan><tspan class="u" dy="2">1, 5, 6, 7</tspan></text></g>
<g id="s_1_5_6_8" transform="translate(940,637.26)"><rect class="b" width="57" height="19.9"/><text class="R" x="27.5" y="13.8"><tspan class="v">s</tspan><tspan class="u" dy="2">1, 5, 6, 8</tspan></text></g>
<g id="s_1_5_7_8" transform="translate(940,657.17)"><rect width="57" height="19.9"/><text class="R" x="27.5" y="13.8"><tspan class="v">s</tspan><tspan class="u" dy="2">1, 5, 7, 8</tspan></text></g>
<g id="s_1_6_7_8" transform="translate(940,677.09)"><rect class="b" width="57" height="19.9"/><text class="R" x="27.5" y="13.8"><tspan class="v">s</tspan><tspan class="u" dy="2">1, 6, 7, 8</tspan></text></g>
</g>
</svg>
